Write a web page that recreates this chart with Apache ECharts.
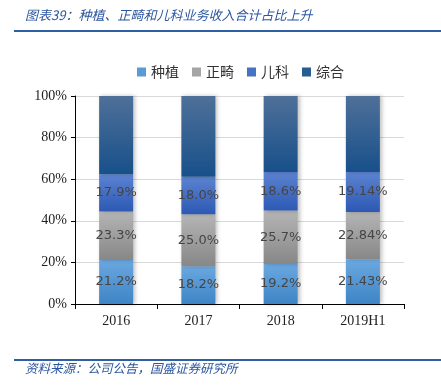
<!DOCTYPE html>
<html>
<head>
<meta charset="utf-8">
<script src="https://cdn.jsdelivr.net/npm/echarts@6/dist/echarts.min.js"></script>
<style>
  html, body { margin: 0; padding: 0; background: #fff; }
  #chart-container { width: 441px; height: 392px; }
</style>
</head>
<body>
<div id="chart-container"></div>
<script>
// data
const categories = ['2016', '2017', '2018', '2019H1'];
const zhongzhi = [21.2, 18.2, 19.2, 21.43];
const zhengji = [23.3, 25.0, 25.7, 22.84];
const erke = [17.9, 18.0, 18.6, 19.14];
const zonghe = [37.6, 38.8, 36.5, 36.59];
const labelDigits = [1, 1, 1, 2];
const yTicks = [0, 20, 40, 60, 80, 100];

const chartDom = document.getElementById('chart-container');
const myChart = echarts.init(chartDom);

function grad(top, bottom) {
    return {
        type: 'linear', x: 0, y: 0, x2: 0, y2: 1,
        colorStops: [{offset: 0, color: top}, {offset: 1, color: bottom}]
    };
}

const labelStyle = {
    show: true,
    position: 'inside',
    color: '#454545',
    fontSize: 13,
    fontFamily: 'DejaVu Sans',
    formatter: function (p) {
        return p.value.toFixed(labelDigits[p.dataIndex]) + '%';
    }
};

function makeSeries(name, data, top, bottom, showLabel) {
    return {
        name: name,
        type: 'bar',
        stack: 'total',
        barWidth: 34,
        data: data,
        itemStyle: {
            color: grad(top, bottom),
            shadowBlur: 4,
            shadowOffsetX: 2,
            shadowColor: 'rgba(0,0,0,0.25)'
        },
        label: showLabel ? labelStyle : {show: false}
    };
}

const series = [
    makeSeries('种植', zhongzhi, '#6ba8e0', '#3e84c5', true),
    makeSeries('正畸', zhengji, '#b5b5b5', '#878787', true),
    makeSeries('儿科', erke, '#5c83d1', '#2d59b4', true),
    makeSeries('综合', zonghe, '#4f7099', '#17508a', false)
];
const legendColors = ['#5b9bd5', '#a5a5a5', '#4472c4', '#255e91'];

var option = {
    animation: false,
    graphic: [
        {
            type: 'text', left: 25, top: 9,
            style: {
                text: '图表39：种植、正畸和儿科业务收入合计占比上升',
                fill: '#2b56a0', font: 'italic 13px "Noto Sans CJK SC"'
            }
        },
        {
            type: 'rect', shape: {x: 14, y: 30, width: 427, height: 2},
            style: {fill: '#2e5fa3'}
        },
        {
            type: 'rect', shape: {x: 14, y: 359, width: 427, height: 2},
            style: {fill: '#2e5fa3'}
        },
        {
            type: 'text', left: 25, top: 362,
            style: {
                text: '资料来源：公司公告，国盛证券研究所',
                fill: '#2b56a0', font: 'italic 12.5px "Noto Sans CJK SC"'
            }
        }
    ],
    legend: {
        top: 60,
        left: 132,
        itemWidth: 9,
        itemHeight: 9,
        itemGap: 13,
        icon: 'rect',
        textStyle: {fontSize: 14, color: '#333', fontFamily: 'Noto Sans CJK SC'},
        data: series.map((s, i) => ({name: s.name, itemStyle: {color: legendColors[i]}}))
    },
    grid: {
        left: 75, right: 37, top: 96, bottom: 88
    },
    xAxis: {
        type: 'category',
        data: categories,
        axisLine: {lineStyle: {color: '#000', width: 1}},
        axisTick: {show: true, length: 5, lineStyle: {color: '#000'}},
        axisLabel: {
            color: '#222', fontSize: 14, fontFamily: 'Liberation Serif', margin: 10
        }
    },
    yAxis: {
        type: 'value',
        min: yTicks[0],
        max: yTicks[yTicks.length - 1],
        interval: 20,
        axisLine: {show: true, lineStyle: {color: '#000', width: 1}},
        axisTick: {show: true, length: 4, lineStyle: {color: '#000'}},
        splitLine: {lineStyle: {color: '#d9d9d9'}},
        axisLabel: {
            color: '#222', fontSize: 14, fontFamily: 'Liberation Serif', margin: 8,
            formatter: '{value}%'
        }
    },
    series: series
};

option && myChart.setOption(option, true);
</script>
</body>
</html>
